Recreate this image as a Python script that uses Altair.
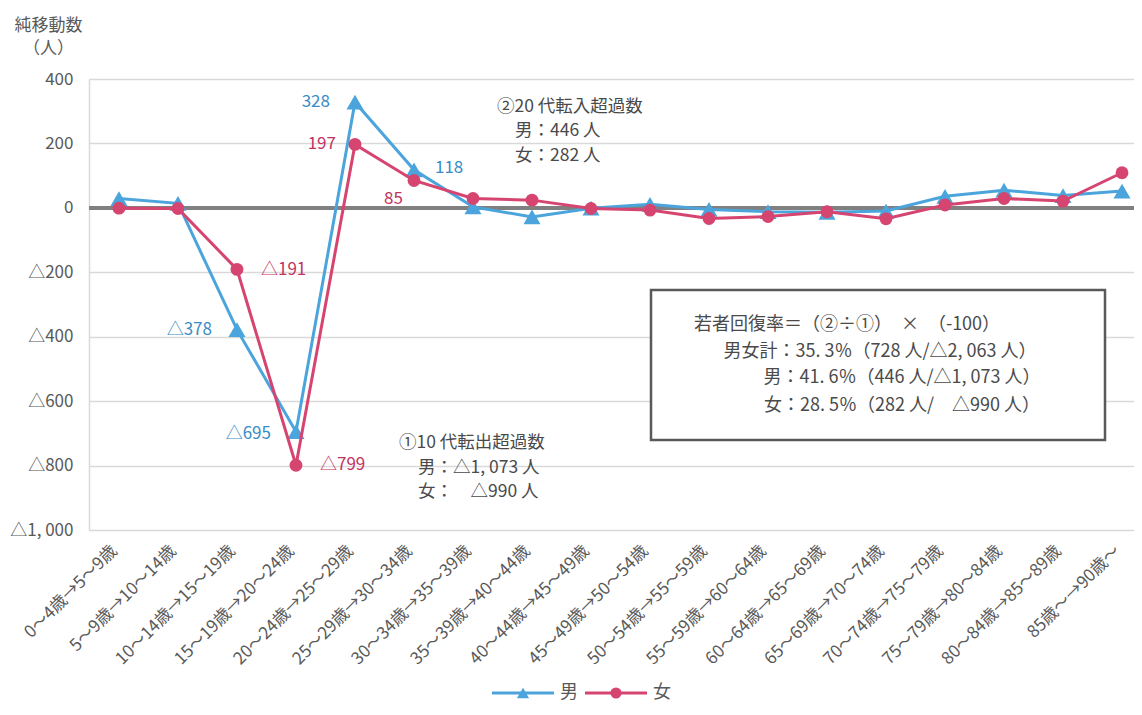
import json
import altair as alt
import pandas as pd

# ---------------- data ----------------
categories = [
    "0～4歳→5～9歳", "5～9歳→10～14歳", "10～14歳→15～19歳", "15～19歳→20～24歳",
    "20～24歳→25～29歳", "25～29歳→30～34歳", "30～34歳→35～39歳", "35～39歳→40～44歳",
    "40～44歳→45～49歳", "45～49歳→50～54歳", "50～54歳→55～59歳", "55～59歳→60～64歳",
    "60～64歳→65～69歳", "65～69歳→70～74歳", "70～74歳→75～79歳", "75～79歳→80～84歳",
    "80～84歳→85～89歳", "85歳～→90歳～",
]
male = [29, 14, -378, -695, 328, 118, 3, -28, -1, 11, -5, -12, -14, -10, 36, 55, 38, 52]
female = [-1, -2, -191, -799, 197, 85, 29, 24, -2, -7, -33, -27, -12, -34, 9, 29, 21, 109]
series_names = ["男", "女"]
y_ticks = [-1000, -800, -600, -400, -200, 0, 200, 400]

note2 = ["②20 代転入超過数", "男：446 人", "女：282 人"]
note1 = ["①10 代転出超過数", "男：△1, 073 人", "女：　△990 人"]
box_title = "若者回復率＝（②÷①）　×　（-100）"
box_lines = [
    "男女計：35. 3％（728 人/△2, 063 人）",
    "男：41. 6％（446 人/△1, 073 人）",
    "女：28. 5％（282 人/　△990 人）",
]

# ---------------- styles ----------------
FONT = "Noto Sans CJK JP"
BLUE = "#4BA5DC"
PINK = "#D64470"
BLUE_T = "#3A8CC6"
PINK_T = "#C2345F"
GRAY = "#595959"
DARK = "#4a4a4a"


def fmt(v):
    return ("△" + format(-v, ",")) if v < 0 else format(v, ",")


n = len(categories)
df = pd.DataFrame({
    "idx": list(range(n)) * 2,
    "value": male + female,
    "sex": [series_names[0]] * n + [series_names[1]] * n,
})
df["lbl"] = [fmt(v) for v in df["value"]]

label_expr = json.dumps(categories, ensure_ascii=False) + "[datum.value]"

X = alt.X(
    "idx:Q",
    scale=alt.Scale(domain=[-0.508, 17.203], nice=False, zero=False),
    axis=alt.Axis(
        values=list(range(n)), labelExpr=label_expr, labelAngle=315,
        labelAlign="right", labelBaseline="middle", labelPadding=18, labelOffset=-5,
        labelFontSize=17, labelColor=GRAY, labelFont=FONT, labelOverlap=False,
        ticks=False, domain=False, grid=False, title=None,
    ),
)
Y = alt.Y(
    "value:Q",
    scale=alt.Scale(domain=[-1000, 400], nice=False),
    axis=alt.Axis(
        values=y_ticks,
        labelExpr="datum.value < 0 ? '△' + replace(format(-datum.value, ','), ',', ', ') : format(datum.value, ',')",
        labelFontSize=17, labelColor=GRAY, labelFont=FONT, labelPadding=16,
        ticks=False, grid=True, gridColor="#d9d9d9", gridWidth=1.5,
        domain=True, domainColor="#d9d9d9", domainWidth=1.5,
        title=["純移動数", "（人）"], titleAngle=0, titleAlign="center",
        titleBaseline="top", titleX=-41, titleY=-62, titleFontSize=17,
        titleFontWeight="normal", titleColor=GRAY, titleFont=FONT, titleLineHeight=23,
    ),
)
C = alt.Color("sex:N", scale=alt.Scale(domain=series_names, range=[BLUE, PINK]), legend=None)

layers = []
one = pd.DataFrame({"a": [0]})

# zero line
layers.append(alt.Chart(df).mark_rule(color="#808080", strokeWidth=3).encode(y=alt.datum(0)))

# box
layers.append(alt.Chart(one).mark_rect(fill="white", stroke=GRAY, strokeWidth=2.5).encode(
    x=alt.value(562), x2=alt.value(1016), y=alt.value(211), y2=alt.value(361)))


def text_line(txt, px, py, size=18, color=DARK, align="left"):
    return alt.Chart(one).mark_text(
        text=txt, align=align, baseline="middle", font=FONT, fontSize=size, color=color
    ).encode(x=alt.value(px), y=alt.value(py))


for txt, px, py in zip(note2, [408, 426, 426], [28, 52, 77]):
    layers.append(text_line(txt, px, py, size=17.5))
for txt, px, py in zip(note1, [310, 329, 329], [364, 389, 413]):
    layers.append(text_line(txt, px, py, size=17.5))
layers.append(text_line(box_title, 758, 246, align="center"))
for txt, cx, py in zip(box_lines, [791, 813, 813], [273, 299, 327]):
    layers.append(text_line(txt, cx, py, align="center"))

# series
for sex, shape, size in [("男", "triangle-up", 290), ("女", "circle", 165)]:
    base = alt.Chart(df).transform_filter(alt.datum.sex == sex)
    layers.append(base.mark_line(strokeWidth=3).encode(x=X, y=Y, color=C))
    layers.append(base.mark_point(filled=True, shape=shape, size=size, opacity=1).encode(x=X, y=Y, color=C))

# data labels
label_specs = [
    ("男", 4, "right", -25, 0), ("女", 4, "right", -19, 0),
    ("男", 5, "left", 21, -2), ("女", 5, "right", -11, 19),
    ("女", 2, "left", 24, 1), ("男", 2, "right", -25, 0),
    ("男", 3, "right", -25, 2), ("女", 3, "left", 24, 0),
]
for sex, i, al, dx, dy in label_specs:
    layers.append(
        alt.Chart(df).transform_filter((alt.datum.sex == sex) & (alt.datum.idx == i))
        .mark_text(align=al, baseline="middle", dx=dx, dy=dy, font=FONT, fontSize=17,
                   color=BLUE_T if sex == "男" else PINK_T)
        .encode(x=X, y=Y, text="lbl:N")
    )

# legend (drawn below the plot)
LEG_Y = 614
for name, color, shape, size, x0 in [("男", BLUE, "triangle-up", 150, 403), ("女", PINK, "circle", 125, 496)]:
    layers.append(alt.Chart(one).mark_rule(color=color, strokeWidth=3).encode(
        x=alt.value(x0), x2=alt.value(x0 + 62), y=alt.value(LEG_Y)))
    layers.append(alt.Chart(one).mark_point(filled=True, shape=shape, size=size, opacity=1, color=color).encode(
        x=alt.value(x0 + 31), y=alt.value(LEG_Y)))
    layers.append(text_line(name, x0 + 68, LEG_Y, size=18, color=GRAY))

chart = alt.layer(*layers).properties(
    width=1045, height=451,
    autosize=alt.AutoSizeParams(type="none"),
    padding={"left": 81, "top": 71, "right": 0, "bottom": 177},
).configure_view(stroke=None, clip=False).configure(font=FONT)

chart.save("out.html", embed_options={"renderer": "svg", "actions": False})
